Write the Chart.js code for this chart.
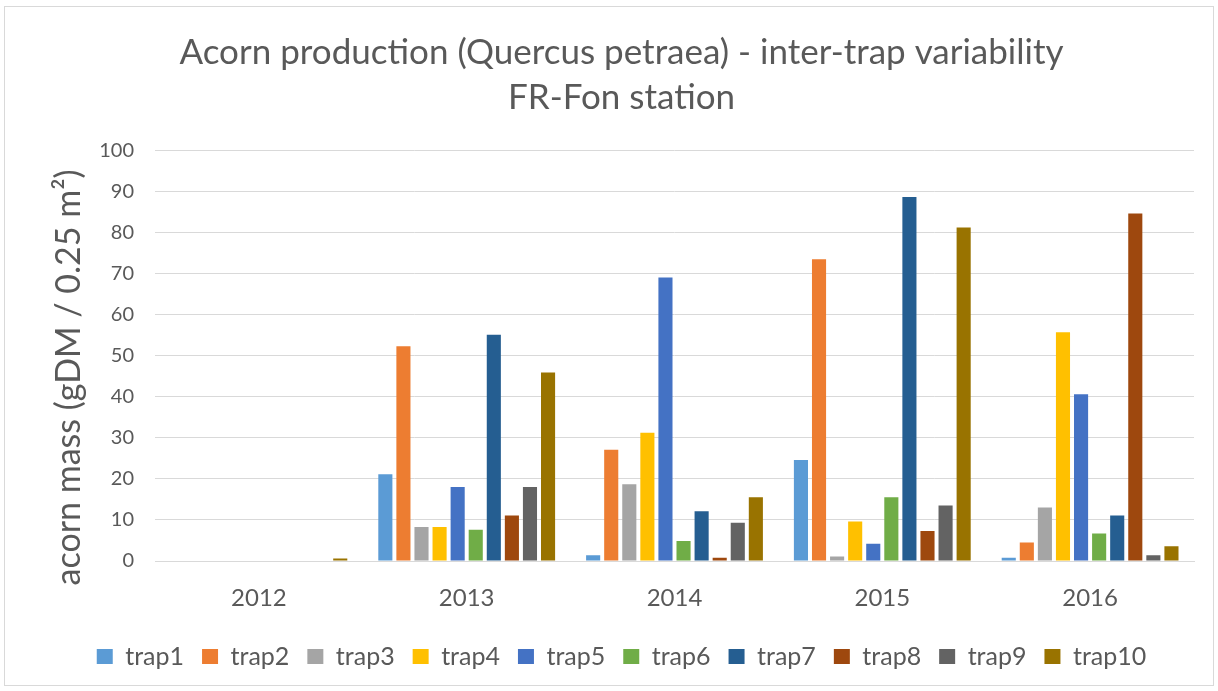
<!DOCTYPE html>
<html><head><meta charset="utf-8">
<script src="https://cdn.jsdelivr.net/npm/chart.js@4/dist/chart.umd.min.js"></script>
<style>
html,body{margin:0;padding:0;background:#fff;}
#wrap{position:absolute;left:0;top:0;width:1218px;height:691px;}
#frame{position:absolute;left:4px;top:6px;width:1210px;height:680px;border:1px solid #d9d9d9;box-sizing:border-box;pointer-events:none;}
</style></head>
<body>
<div id="wrap"><canvas id="c" width="1218" height="691"></canvas></div>
<div id="frame"></div>
<script>
const years = ['2012','2013','2014','2015','2016'];
const trapNames = ['trap1','trap2','trap3','trap4','trap5','trap6','trap7','trap8','trap9','trap10'];
const trap1  = [0, 21.1, 1.4, 24.6, 0.8];
const trap2  = [0, 52.3, 27.1, 73.5, 4.5];
const trap3  = [0, 8.3, 18.7, 1.1, 13.0];
const trap4  = [0, 8.3, 31.2, 9.6, 55.7];
const trap5  = [0, 18.0, 69.0, 4.2, 40.6];
const trap6  = [0, 7.6, 4.9, 15.5, 6.7];
const trap7  = [0, 55.1, 12.1, 88.6, 11.1];
const trap8  = [0, 11.1, 0.8, 7.3, 84.6];
const trap9  = [0, 18.0, 9.3, 13.5, 1.4];
const trap10 = [0.6, 45.9, 15.5, 81.2, 3.6];
const yTicks = [0,10,20,30,40,50,60,70,80,90,100];
const colors = ['#5B9BD5','#ED7D31','#A5A5A5','#FFC000','#4472C4','#70AD47','#255E91','#9E480E','#636363','#997300'];
const series = [trap1,trap2,trap3,trap4,trap5,trap6,trap7,trap8,trap9,trap10];
const FONT = 'Lato, "Open Sans", sans-serif';
new Chart(document.getElementById('c'), {
  type: 'bar',
  data: {
    labels: years,
    datasets: series.map((d,i)=>({label: trapNames[i], data: d, backgroundColor: colors[i], borderWidth: 0, categoryPercentage: 0.87, barPercentage: 0.78}))
  },
  options: {
    responsive: false,
    animation: false,
    layout: {padding: {left: 49, right: 24, top: 10, bottom: 12}},
    plugins: {
      title: {display: true, text: ['Acorn production (Quercus petraea) - inter-trap variability','FR-Fon station'], color: '#595959', font: {family: FONT, size: 35, weight: 'normal', lineHeight: 1.29}, padding: {top: 20, bottom: 30}},
      legend: {position: 'bottom', labels: {color: '#595959', font: {family: FONT, size: 25}, boxWidth: 16, boxHeight: 15, padding: 18}},
      tooltip: {enabled: false}
    },
    scales: {
      x: {grid: {display: false, drawTicks: false}, border: {color: '#d9d9d9'}, ticks: {color: '#595959', font: {family: FONT, size: 24}, padding: 23},
          afterFit: s => { s.height = 65; }},
      y: {min: 0, max: 100, afterBuildTicks: s => { s.ticks = yTicks.map(v=>({value:v})); },
          grid: {color: '#d9d9d9', drawTicks: false}, border: {display: false},
          ticks: {color: '#595959', font: {family: FONT, size: 20}, padding: 21},
          title: {display: true, text: 'acorn mass (gDM / 0.25 m²)     ', color: '#595959', font: {family: FONT, size: 34}, padding: {top: 0, bottom: 0}},
          afterFit: s => { s.width = 106; }}
    }
  }
});
</script>
</body></html>
